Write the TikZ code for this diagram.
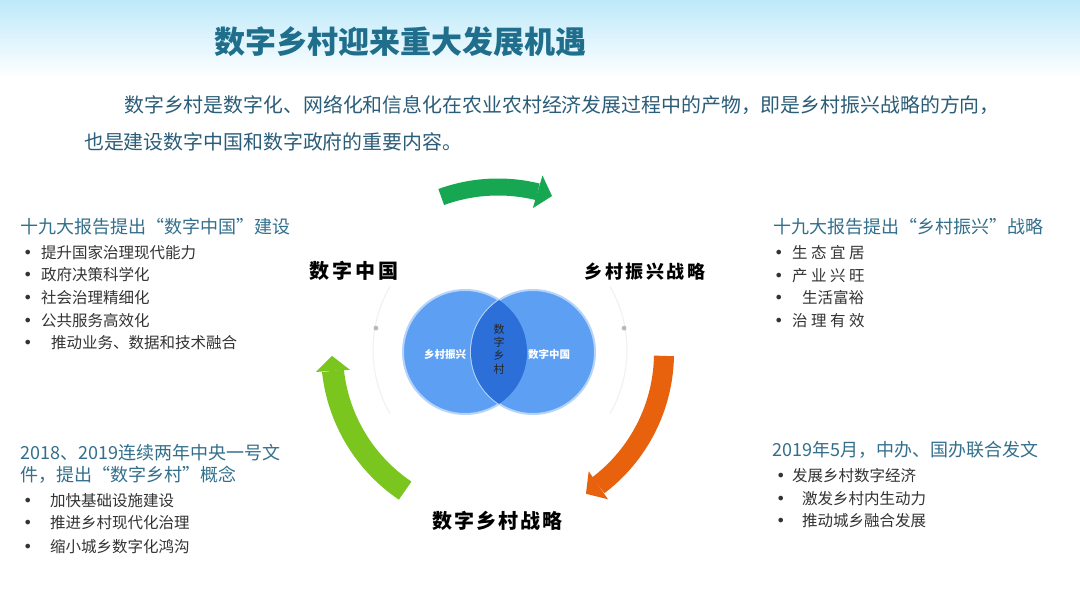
\documentclass[tikz,border=0pt]{standalone}
\usepackage{fontspec}
\setmainfont{Noto Sans CJK SC}
\newfontfamily\dotfont{DejaVu Sans}
\usepackage{tikz}
\usetikzlibrary{positioning,arrows.meta,bending}
\definecolor{cSky}{HTML}{BEE9FA}
\definecolor{cTitle}{HTML}{1F6E8C}
\definecolor{cPara}{HTML}{2B5D78}
\definecolor{cHead}{HTML}{336F8C}
\definecolor{cBody}{HTML}{333333}
\definecolor{cGreen}{HTML}{17A651}
\definecolor{cLime}{HTML}{7BC51F}
\definecolor{cOrange}{HTML}{E8610C}
\definecolor{cVenn}{HTML}{5C9FF3}
\definecolor{cLens}{HTML}{2C6FD8}
\newcommand{\bul}[1]{\makebox[#1][l]{\dotfont\fontsize{16}{16}\selectfont •}}

\begin{document}
\begin{tikzpicture}[x=1pt,y=-1pt]
  \tikzset{
    head/.style={anchor=west, inner sep=0, align=left, text=cHead,
      font=\fontsize{18}{22.5}\selectfont},
    item/.style={anchor=west, inner sep=0, text=cBody,
      font=\fontsize{15.5}{18}\selectfont},
    para/.style={anchor=west, inner sep=0, text=cPara,
      font=\fontsize{19.9}{20}\selectfont},
    key/.style={inner sep=0, text=black, font=\fontsize{#1}{#1}\bfseries},
    cyc/.style={draw=#1, line cap=butt,
      -{Triangle[length=15pt,width=34pt,line width=0pt]}},
    venn/.style={circle, inner sep=0, minimum size=124pt, fill=cVenn,
      draw=cVenn!45, line width=2pt},
    vlbl/.style={inner sep=0, text=white, font=\fontsize{10.5}{10.5}\bfseries},
    faint/.style={draw=gray!12, line width=1pt},
  }
  \useasboundingbox (0,0) rectangle (1080,608);
  \fill[white] (0,0) rectangle (1080,608);
  \shade[top color=cSky, bottom color=white] (0,0) rectangle (1080,78);

  % title and lead text
  \node[anchor=west, inner sep=0, text=cTitle,
    font=\fontsize{31}{31}\bfseries] (title) at (214,42) {数字乡村迎来重大发展机遇};
  \node[para] (par1) at (124,105) {数字乡村是数字化、网络化和信息化在农业农村经济发展过程中的产物，即是乡村振兴战略的方向，};
  \node[para] (par2) at (84,142) {也是建设数字中国和数字政府的重要内容。};

  % ring of arrows
  \coordinate (ctr) at (498,353);
  \draw[cyc=cGreen, line width=17pt] (ctr) ++(-110:166)
    arc[start angle=-110, end angle=-71, radius=166];
  \draw[cyc=cOrange, line width=20pt] (ctr) ++(1:166)
    arc[start angle=1, end angle=58, radius=166];
  \draw[cyc=cLime, line width=22pt] (ctr) ++(124:166)
    arc[start angle=124, end angle=179, radius=166];

  % faint arcs with dots
  \coordinate (inner) at (500,350);
  \draw[faint] (inner) ++(150:127) arc[start angle=150, end angle=210, radius=127];
  \draw[faint] (inner) ++(-30:127) arc[start angle=-30, end angle=30, radius=127];
  \fill[gray!55] (inner) ++(190:126) circle (2.4);
  \fill[gray!55] (inner) ++(-10:126) circle (2.4);

  % Venn diagram
  \node[venn] (lc) at (465,352) {};
  \node[venn] (rc) at (533,352) {};
  \begin{scope}
    \clip (lc.center) circle (62);
    \fill[cLens] (rc.center) circle (62);
  \end{scope}
  \node[vlbl] (lcl) at (445,354) {乡村振兴};
  \node[vlbl] (rcl) at (549,354) {数字中国};
  \node[inner sep=0, align=center, text=black!85,
    font=\fontsize{11}{13.3}\selectfont] (mid) at (499,349) {数\\字\\乡\\村};

  % key words round the ring
  \node[key=20] (kChina) at (354,271) {\addfontfeature{LetterSpace=15}数字中国};
  \node[key=18] (kRevive) at (645,272) {\addfontfeature{LetterSpace=14}乡村振兴战略};
  \node[key=20] (kRural) at (497,521) {\addfontfeature{LetterSpace=10}数字乡村战略};

  % top left block
  \node[head] (hLT) at (20,227) {十九大报告提出“数字中国”建设};
  \foreach \y/\t [count=\i] in {253/提升国家治理现代能力, 275/政府决策科学化,
      298/社会治理精细化, 321/公共服务高效化, 343/\hspace{10pt}推动业务、数据和技术融合}
    \node[item] (lt\i) at (23,\y) {\bul{18pt}\t};

  % top right block
  \node[head] (hRT) at (773,227) {十九大报告提出“乡村振兴”战略};
  \foreach \y/\t [count=\i] in {253/生 态 宜 居, 276/产 业 兴 旺,
      298/\hspace{10pt}生活富裕, 321/治 理 有 效}
    \node[item] (rt\i) at (774,\y) {\bul{18pt}\t};

  % bottom left block
  \node[head] (hLB) at (20,464) {2018、2019连续两年中央一号文\\件，提出“数字乡村”概念};
  \foreach \y/\t [count=\i] in {501/加快基础设施建设, 523/推进乡村现代化治理,
      547/缩小城乡数字化鸿沟}
    \node[item] (lb\i) at (23,\y) {\bul{27pt}\t};

  % bottom right block
  \node[head] (hRB) at (772,450) {2019年5月，中办、国办联合发文};
  \foreach \y/\t [count=\i] in {476/发展乡村数字经济, 499/\hspace{10pt}激发乡村内生动力,
      521/\hspace{10pt}推动城乡融合发展}
    \node[item] (rb\i) at (776,\y) {\bul{16pt}\t};
\end{tikzpicture}
\end{document}
